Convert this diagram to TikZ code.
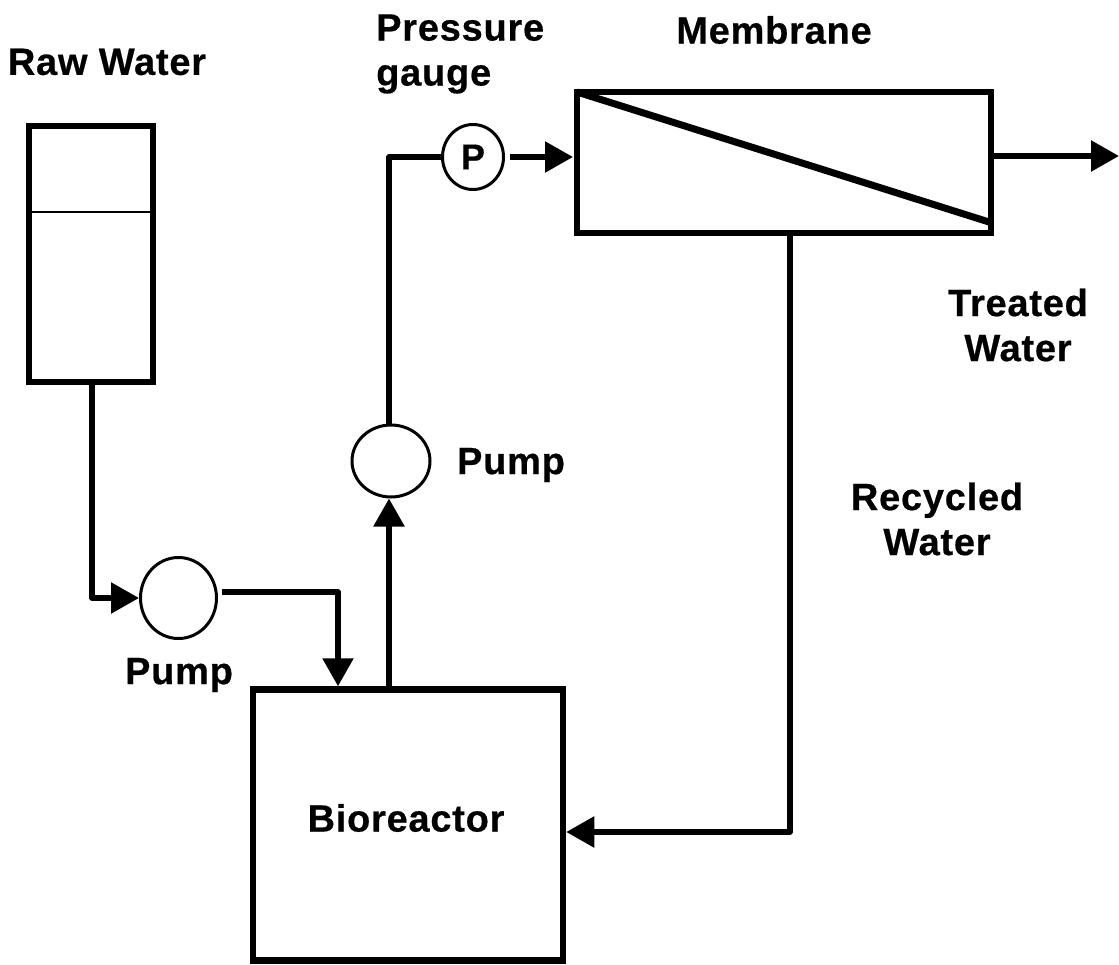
\documentclass[tikz,border=0pt]{standalone}
\usepackage{fontspec}
\setmainfont[LetterSpace=2,BoldFeatures={FakeBold=0.5}]{Liberation Sans}
\usetikzlibrary{arrows.meta,shapes.geometric}
\tikzset{
 boxn/.style={draw=black,line width=6.5pt,inner sep=0pt,minimum width=#1},
 lab/.style={font=\fontsize{38}{45}\selectfont\bfseries,align=#1,text=black,inner sep=0pt},
 lab/.default=center,
 pipe/.style={line width=5.5pt,draw=black,line join=round},
 flow/.style={pipe,-{Triangle[length=28pt,width=30pt]}},
 circ/.style={draw=black,line width=3pt,ellipse,inner sep=0pt,fill=white},
}
\begin{document}
\begin{tikzpicture}[x=1pt,y=-1pt]
\useasboundingbox (0,0) rectangle (1119,965);
\fill[white] (0,0) rectangle (1119,965);
% boxes
\node[boxn=124pt,minimum height=256pt] (tank) at (91,254) {};
\coordinate (lvlL) at (tank.west|-0,212);
\coordinate (lvlR) at (tank.east|-0,212);
\draw[line width=2pt] (lvlL) -- (lvlR);
\node[boxn=310pt,minimum height=271pt] (bio) at (408,825) {};
\node[boxn=414pt,minimum height=141pt] (mem) at (784,162.5) {};
\coordinate (dgA) at (577,92);
\coordinate (dgB) at (989,222);
\draw[line width=7pt] (dgA) -- (dgB);
% pumps
\node[circ,minimum width=76pt,minimum height=81pt] (p1) at (178.5,598) {};
\node[circ,minimum width=78pt,minimum height=72pt] (p2) at (391,461) {};
\node[circ,minimum width=61pt,minimum height=65pt,font=\fontsize{36}{40}\selectfont\bfseries] (g) at (473,157) {P};
% coordinates
\coordinate (a1) at (92,598);
\coordinate (b0) at (222,592);
\coordinate (b1) at (338,592);
\coordinate (c1) at (389,157);
\coordinate (d1) at (790,832);
\coordinate (out) at (1119,156);
\coordinate (gout) at (573,157);
\coordinate (gst) at (510,157);
% connectors
\draw[flow] (tank.south-|a1) -- (a1) -- (p1.west);
\draw[flow] (b0) -- (b1) -- (bio.north-|b1);
\draw[flow] (bio.north-|c1) -- (p2.south-|c1);
\draw[pipe] (p2.north-|c1) -- (c1) -- (g.west);
\draw[flow] (gst) -- (gout);
\draw[flow] (mem.east|-out) -- (out);
\draw[flow] (mem.south-|d1) -- (d1) -- (bio.east|-d1);
% labels
\node[lab] (t1) at (107,62) {Raw Water};
\node[lab=left,anchor=west] (t2) at (376,54) {Pressure\\gauge};
\node[lab] (t3) at (774,30) {Membrane};
\node[lab] (t4) at (1018,325) {Treated\\Water};
\node[lab] (t5) at (937,519) {Recycled\\Water};
\node[lab] (t6) at (511,465) {Pump};
\node[lab] (t7) at (179,675) {Pump};
\node[lab] (t8) at (406,818) {Bioreactor};
\end{tikzpicture}
\end{document}
